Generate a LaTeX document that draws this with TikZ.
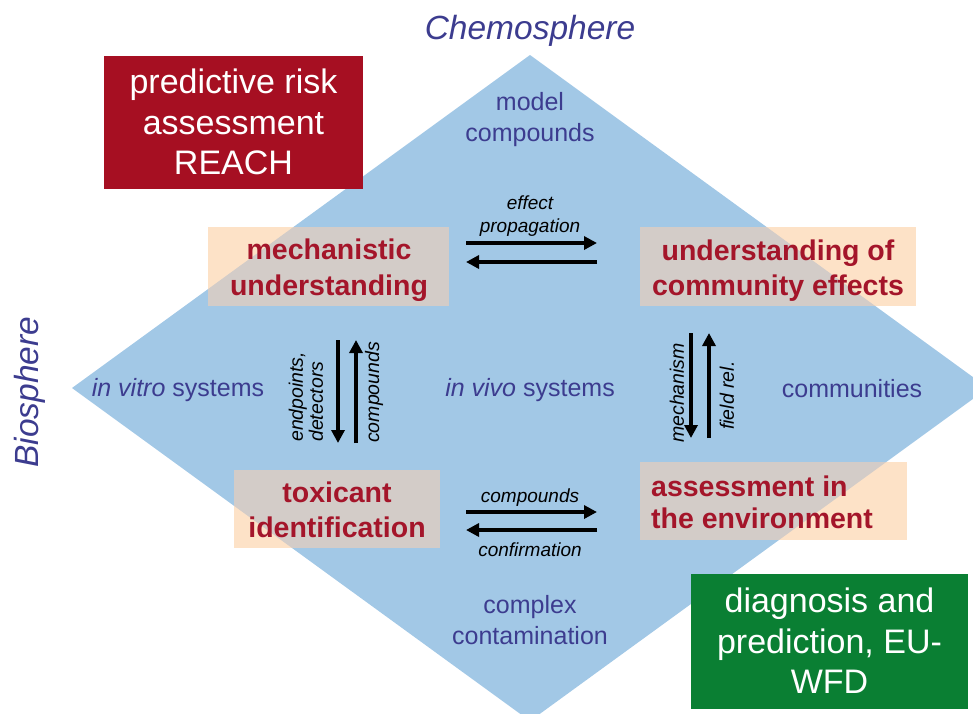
\documentclass[tikz,border=0pt]{standalone}
\usepackage{fontspec}
\setmainfont{Liberation Sans}
\usetikzlibrary{arrows.meta}
\pgfdeclarelayer{back}
\pgfsetlayers{back,main}
\definecolor{dblue}{HTML}{A2C8E6}
\definecolor{txtblue}{HTML}{3C3C8F}
\definecolor{redtxt}{HTML}{A4152A}
\definecolor{redbox}{HTML}{A60F22}
\definecolor{greenbox}{HTML}{0A7F33}
\definecolor{peach}{HTML}{FDE2C7}
\definecolor{boxgray}{HTML}{D3CCC8}
\tikzset{
  sphere/.style={text=txtblue, font=\fontsize{33.5}{40}\selectfont\itshape},
  region/.style={text=txtblue, align=center, font=\fontsize{25}{31}\selectfont},
  tantext/.style={inner sep=0pt, text=redtxt, font=\fontsize{28.5}{35.5}\selectfont\bfseries},
  bigbox/.style={inner sep=0pt, text=white, align=center, font=\fontsize{34}{40.5}\selectfont},
  arr/.style={line width=4.3pt, -{Triangle[length=13pt,width=13pt]}},
  lab/.style={font=\fontsize{19}{23}\selectfont\itshape, align=center},
  vlab/.style={font=\fontsize{19.5}{20}\selectfont\itshape, align=left, rotate=90, anchor=west, inner sep=0pt},
}
\begin{document}
\begin{tikzpicture}[x=1pt,y=-1pt]
\useasboundingbox (0,0) rectangle (973,713);
\coordinate (dt) at (530,55);
\coordinate (dr) at (988,388);
\coordinate (db) at (530,721);
\coordinate (dl) at (72,388);

\node[sphere] (chemo) at (530,31) {Chemosphere};
\node[sphere, rotate=90] (bio) at (30,392) {Biosphere};

\node[bigbox, fill=redbox, minimum width=259pt, minimum height=133pt] (reach) at (233.5,122)
  {predictive risk\\assessment\\REACH};
\node[bigbox, fill=greenbox, minimum width=277pt, minimum height=135pt] (wfd) at (829.5,641)
  {diagnosis and\\prediction, EU-\\WFD};

\node[region] (model) at (530,120) {model\\compounds};
\node[region] (complex) at (530,620) {complex\\contamination};
\node[region] (vitro) at (178,390) {\textit{in vitro} systems};
\node[region] (vivo) at (530,390) {\textit{in vivo} systems};
\node[region] (comm) at (852,389) {communities};

\node[tantext, align=center] (mech) at (329,270) {mechanistic\\understanding};
\node[tantext, align=center] (comeff) at (778,270.5) {understanding of\\community effects};
\node[tantext, align=center] (tox) at (337,510) {toxicant\\identification};
\node[tantext, align=left, anchor=west, font=\fontsize{28.5}{32.5}\selectfont\bfseries] (env) at (651,502.5) {assessment in\\the environment};

\begin{pgfonlayer}{back}
  \begin{scope}
    \clip (0,0) rectangle (973,713);
    \fill[dblue] (dt) -- (dr) -- (db) -- (dl) -- cycle;
  \end{scope}
  \fill[peach] (208,227) rectangle (449,306);
  \fill[peach] (640,227) rectangle (916,306);
  \fill[peach] (234,470) rectangle (440,548);
  \fill[peach] (640,462) rectangle (907,540);
  \begin{scope}
    \clip (dt) -- (dr) -- (db) -- (dl) -- cycle;
    \fill[boxgray] (208,227) rectangle (449,306);
    \fill[boxgray] (640,227) rectangle (916,306);
    \fill[boxgray] (234,470) rectangle (440,548);
    \fill[boxgray] (640,462) rectangle (907,540);
  \end{scope}
\end{pgfonlayer}

% horizontal arrows
\coordinate (t1a) at (466,243); \coordinate (t1b) at (597,243);
\coordinate (t2a) at (597,262); \coordinate (t2b) at (466,262);
\draw[arr] (t1a) -- (t1b);
\draw[arr] (t2a) -- (t2b);
\node[lab] (effl) at (530,216) {effect\\propagation};

\coordinate (b1a) at (466,512); \coordinate (b1b) at (597,512);
\coordinate (b2a) at (597,530); \coordinate (b2b) at (466,530);
\draw[arr] (b1a) -- (b1b);
\draw[arr] (b2a) -- (b2b);
\node[lab] (cmpl) at (530,498) {compounds};
\node[lab] (confl) at (530,550) {confirmation};

% vertical arrows left
\coordinate (l1a) at (338,340); \coordinate (l1b) at (338,443);
\coordinate (l2a) at (356,443); \coordinate (l2b) at (356,340);
\draw[arr] (l1a) -- (l1b);
\draw[arr] (l2a) -- (l2b);
\node[vlab] (endp) at (306,442) {endpoints,\\detectors};
\node[vlab] (cmpv) at (374,443) {compounds};

% vertical arrows right
\coordinate (r1a) at (691,333); \coordinate (r1b) at (691,438);
\coordinate (r2a) at (709,438); \coordinate (r2b) at (709,333);
\draw[arr] (r1a) -- (r1b);
\draw[arr] (r2a) -- (r2b);
\node[vlab] (mechl) at (677,443) {mechanism};
\node[vlab] (field) at (727,430) {field rel.};
\end{tikzpicture}
\end{document}
